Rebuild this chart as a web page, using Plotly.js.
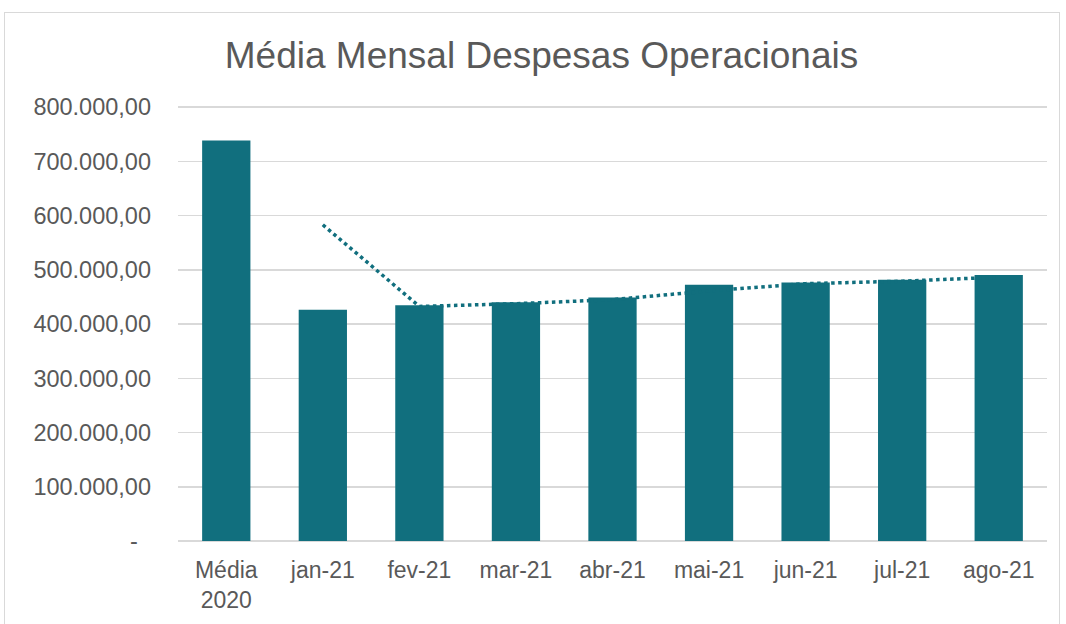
<!DOCTYPE html>
<html>
<head>
<meta charset="utf-8">
<script src="https://cdn.plot.ly/plotly-3.0.1.min.js"></script>
<style>
html,body{margin:0;padding:0;background:#fff;}
#chart{width:1066px;height:624px;}
#frame{position:absolute;left:4px;top:12px;width:1056px;height:620px;border:1.5px solid #D9D9D9;pointer-events:none;box-sizing:border-box;}
</style>
</head>
<body>
<div id="chart"></div>
<div id="frame"></div>
<script>
const categories = ["Média<br>2020","jan-21","fev-21","mar-21","abr-21","mai-21","jun-21","jul-21","ago-21"];
const despesas = [738500, 426500, 434500, 440000, 449000, 472500, 476500, 481500, 490500];
const trendCategories = ["jan-21","fev-21","mar-21","abr-21","mai-21","jun-21","jul-21","ago-21"];
const trendValues = [583000, 432500, 437500, 445000, 461000, 474500, 479000, 486500];
const tickVals = [0,100000,200000,300000,400000,500000,600000,700000,800000];
const tickText = ["-\u00a0\u00a0","100.000,00","200.000,00","300.000,00","400.000,00","500.000,00","600.000,00","700.000,00","800.000,00"];

const color = "#116F7E";
const font = "Liberation Sans, Arial, sans-serif";

const data = [
  {type:"bar", x:categories, y:despesas, marker:{color:color, line:{width:0}}, hoverinfo:"y"},
  {type:"scatter", mode:"lines", x:trendCategories, y:trendValues, line:{color:color, width:3.5, dash:"dot"}, hoverinfo:"y"}
];
const layout = {
  width:1066, height:624,
  margin:{l:178, r:19, t:106, b:83},
  paper_bgcolor:"#fff", plot_bgcolor:"#fff",
  showlegend:false,
  bargap:0.5,
  font:{family:font, color:"#595959", size:23},
  title:{text:"Média Mensal Despesas Operacionais", font:{family:font, size:37, color:"#595959"}, x:0.508, xanchor:"center", y:0.912, yanchor:"middle"},
  xaxis:{type:"category", categoryorder:"array", categoryarray:categories, showgrid:false, zeroline:false, showline:false, ticks:"", tickfont:{size:23, color:"#595959"}, ticklabelstandoff:13, fixedrange:true},
  yaxis:{range:[0,802000], tickvals:tickVals, ticktext:tickText, showgrid:true, gridcolor:"#D9D9D9", gridwidth:1.5, zeroline:true, zerolinecolor:"#D9D9D9", zerolinewidth:1.5, showline:false, ticks:"", tickfont:{size:23.5, color:"#595959"}, ticklabelstandoff:26, fixedrange:true}
};
Plotly.newPlot("chart", data, layout, {displayModeBar:false, staticPlot:true});
</script>
</body>
</html>
